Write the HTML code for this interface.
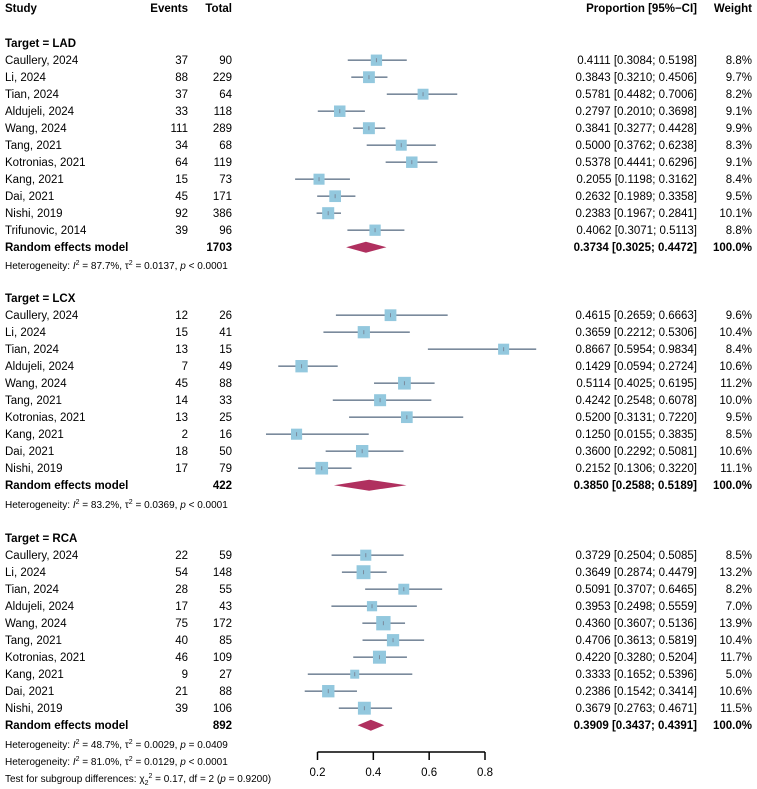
<!DOCTYPE html>
<html><head><meta charset="utf-8"><style>
body{margin:0;background:#fff;}
svg{display:block;font-family:"Liberation Sans",Arial,sans-serif;}
</style></head><body>
<svg id="plot" width="757" height="789">
<g id="g"></g>
</svg>
<script>
const ladStudies=["Caullery, 2024","Li, 2024","Tian, 2024","Aldujeli, 2024","Wang, 2024","Tang, 2021","Kotronias, 2021","Kang, 2021","Dai, 2021","Nishi, 2019","Trifunovic, 2014"];
const ladEvents=[37,88,37,33,111,34,64,15,45,92,39];
const ladTotal=[90,229,64,118,289,68,119,73,171,386,96];
const ladProp=[0.4111,0.3843,0.5781,0.2797,0.3841,0.5000,0.5378,0.2055,0.2632,0.2383,0.4062];
const ladLo=[0.3084,0.3210,0.4482,0.2010,0.3277,0.3762,0.4441,0.1198,0.1989,0.1967,0.3071];
const ladHi=[0.5198,0.4506,0.7006,0.3698,0.4428,0.6238,0.6296,0.3162,0.3358,0.2841,0.5113];
const ladW=[8.8,9.7,8.2,9.1,9.9,8.3,9.1,8.4,9.5,10.1,8.8];
const ladRE=[0.3734,0.3025,0.4472];

const lcxStudies=["Caullery, 2024","Li, 2024","Tian, 2024","Aldujeli, 2024","Wang, 2024","Tang, 2021","Kotronias, 2021","Kang, 2021","Dai, 2021","Nishi, 2019"];
const lcxEvents=[12,15,13,7,45,14,13,2,18,17];
const lcxTotal=[26,41,15,49,88,33,25,16,50,79];
const lcxProp=[0.4615,0.3659,0.8667,0.1429,0.5114,0.4242,0.5200,0.1250,0.3600,0.2152];
const lcxLo=[0.2659,0.2212,0.5954,0.0594,0.4025,0.2548,0.3131,0.0155,0.2292,0.1306];
const lcxHi=[0.6663,0.5306,0.9834,0.2724,0.6195,0.6078,0.7220,0.3835,0.5081,0.3220];
const lcxW=[9.6,10.4,8.4,10.6,11.2,10.0,9.5,8.5,10.6,11.1];
const lcxRE=[0.3850,0.2588,0.5189];

const rcaStudies=["Caullery, 2024","Li, 2024","Tian, 2024","Aldujeli, 2024","Wang, 2024","Tang, 2021","Kotronias, 2021","Kang, 2021","Dai, 2021","Nishi, 2019"];
const rcaEvents=[22,54,28,17,75,40,46,9,21,39];
const rcaTotal=[59,148,55,43,172,85,109,27,88,106];
const rcaProp=[0.3729,0.3649,0.5091,0.3953,0.4360,0.4706,0.4220,0.3333,0.2386,0.3679];
const rcaLo=[0.2504,0.2874,0.3707,0.2498,0.3607,0.3613,0.3280,0.1652,0.1542,0.2763];
const rcaHi=[0.5085,0.4479,0.6465,0.5559,0.5136,0.5819,0.5204,0.5396,0.3414,0.4671];
const rcaW=[8.5,13.2,8.2,7.0,13.9,10.4,11.7,5.0,10.6,11.5];
const rcaRE=[0.3909,0.3437,0.4391];

const axisTicks=[0.2,0.4,0.6,0.8];

const NS="http://www.w3.org/2000/svg";
const g=document.getElementById('g');
function x(v){return 317.5+(v-0.2)*(485-317.5)/0.6;}
function el(t,a,txt){const e=document.createElementNS(NS,t);for(const k in a)e.setAttribute(k,a[k]);if(txt!==undefined)e.textContent=txt;g.appendChild(e);return e;}
function text(s,xx,yy,anchor,bold,name,size){const e=el('text',{x:xx,y:yy+4,'font-size':size||11.5,'text-anchor':anchor||'start','font-weight':bold?'bold':'normal',fill:'#000'},s);


return e;}
function f4(v){return v.toFixed(4);}

text("Study",5,8,'start',true,'header-study');
text("Events",188,8,'end',true,'header-events');
text("Total",232,8,'end',true,'header-total');
text("Proportion [95%\u2212CI]",697,8,'end',true,'header-proportion');
text("Weight",752,8,'end',true,'header-weight');

function group(label,y0,st,ev,tot,p,lo,hi,w,re){
  text("Target = "+label,5,y0,'start',true,'subgroup-title-'+label.toLowerCase());
  let y=y0+17.2;
  for(let i=0;i<st.length;i++){
    text(st[i],5,y,'start',false,'study-label');
    text(String(ev[i]),188,y,'end',false,'events-value');
    text(String(tot[i]),232,y,'end',false,'total-value');
    text(f4(p[i])+" ["+f4(lo[i])+"; "+f4(hi[i])+"]",697,y,'end',false,'ci-text');
    text(w[i].toFixed(1)+"%",752,y,'end',false,'weight-value');
    const l=el('line',{x1:x(lo[i]),x2:x(hi[i]),y1:y,y2:y,stroke:'#7a8a9c','stroke-width':1.6});
    
    
    const s=6+w[i]*0.6;
    const r=el('rect',{x:x(p[i])-s/2,y:y-s/2,width:s,height:s,fill:'#93c8de'});
    
    
    const c=el('line',{x1:x(p[i]),x2:x(p[i]),y1:y-2,y2:y+2,stroke:'#7a8a9c','stroke-width':1});
    
    
    y+=17;
  }
  const sum=tot.reduce((a,b)=>a+b,0);
  text("Random effects model",5,y,'start',true,'random-effects-label');
  text(String(sum),232,y,'end',true,'total-sum');
  text(f4(re[0])+" ["+f4(re[1])+"; "+f4(re[2])+"]",697,y,'end',true,'random-effects-ci');
  text("100.0%",752,y,'end',true,'random-effects-weight');
  const d=el('polygon',{points:`${x(re[1])},${y} ${x(re[0])},${y-5.5} ${x(re[2])},${y} ${x(re[0])},${y+5.5}`,fill:'#b0305f'});
  
  
  return y;
}
function het(y,I2,t2,p){
  const e=el('text',{x:5,y:y+4,'font-size':10,fill:'#000'});
  
  
  e.innerHTML=`Heterogeneity: <tspan font-style="italic">I</tspan><tspan font-size="7" dy="-4">2</tspan><tspan dy="4"> = ${I2}, τ</tspan><tspan font-size="7" dy="-4">2</tspan><tspan dy="4"> = ${t2}, </tspan><tspan font-style="italic">p</tspan> ${p}`;
}
group("LAD",43,ladStudies,ladEvents,ladTotal,ladProp,ladLo,ladHi,ladW,ladRE);
het(265,"87.7%","0.0137","< 0.0001");
group("LCX",298,lcxStudies,lcxEvents,lcxTotal,lcxProp,lcxLo,lcxHi,lcxW,lcxRE);
het(504,"83.2%","0.0369","< 0.0001");
group("RCA",538,rcaStudies,rcaEvents,rcaTotal,rcaProp,rcaLo,rcaHi,rcaW,rcaRE);
het(744,"48.7%","0.0029","= 0.0409");
het(761,"81.0%","0.0129","< 0.0001");
{const e=el('text',{x:5,y:782,'font-size':10,fill:'#000'});


e.innerHTML=`Test for subgroup differences: χ<tspan font-size="7" dy="3">2</tspan><tspan font-size="7" dy="-7">2</tspan><tspan dy="4"> = 0.17, df = 2 (</tspan><tspan font-style="italic">p</tspan> = 0.9200)`;}

const ax=el('line',{x1:x(0.2),x2:x(0.8),y1:752,y2:752,stroke:'#000','stroke-width':1.5});


axisTicks.forEach(t=>{
  const tk=el('line',{x1:x(t),x2:x(t),y1:752,y2:760,stroke:'#000','stroke-width':1.5});
  
  
  text(t.toFixed(1),x(t),772,'middle',false,'x-tick-label',11.5);
});
</script>
</body></html>
